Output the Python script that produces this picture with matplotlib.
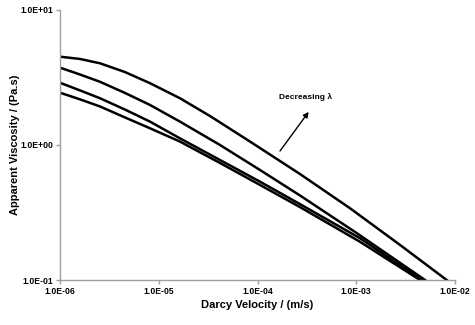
import matplotlib
matplotlib.use("Agg")
import matplotlib.pyplot as plt
from matplotlib.ticker import FixedLocator, NullLocator

# Data (Darcy velocity in m/s, apparent viscosity in Pa.s)
v1 = [1.00e-6, 1.59e-6, 2.54e-6, 4.55e-6, 8.15e-6, 1.64e-5, 3.30e-5, 8.40e-5,
      2.69e-4, 8.65e-4, 2.77e-3, 8.24e-3]
mu1 = [4.51, 4.34, 4.03, 3.47, 2.87, 2.22, 1.64, 1.06, 0.610, 0.340, 0.182, 0.100]

v2 = [1.00e-6, 1.59e-6, 2.54e-6, 4.55e-6, 8.15e-6, 1.64e-5, 4.17e-5, 1.06e-4,
      2.69e-4, 9.71e-4, 4.97e-3]
mu2 = [3.74, 3.33, 2.94, 2.43, 1.98, 1.49, 1.00, 0.653, 0.423, 0.227, 0.100]

v3 = [1.00e-6, 1.59e-6, 2.54e-6, 4.55e-6, 8.15e-6, 1.64e-5, 4.17e-5, 1.06e-4,
      2.69e-4, 1.09e-3, 4.60e-3]
mu3 = [2.89, 2.54, 2.22, 1.83, 1.49, 1.12, 0.774, 0.535, 0.365, 0.204, 0.100]

v4 = [1.00e-6, 1.59e-6, 2.54e-6, 4.55e-6, 8.15e-6, 1.64e-5, 4.17e-5, 1.06e-4,
      2.69e-4, 1.09e-3, 4.42e-3]
mu4 = [2.44, 2.18, 1.93, 1.60, 1.33, 1.06, 0.736, 0.506, 0.347, 0.192, 0.100]

x_ticks = [1e-6, 1e-5, 1e-4, 1e-3, 1e-2]
x_labels = ["1.0E-06", "1.0E-05", "1.0E-04", "1.0E-03", "1.0E-02"]
y_ticks = [1e-1, 1e0, 1e1]
y_labels = ["1.0E-01", "1.0E+00", "1.0E+01"]

plt.rcParams['font.family'] = ['Liberation Sans', 'DejaVu Sans']

fig = plt.figure(figsize=(4.75, 3.25), dpi=100)
ax = fig.add_axes([60/475, 45/325, 395/475, 270/325])

for v, mu in [(v1, mu1), (v2, mu2), (v3, mu3), (v4, mu4)]:
    ax.plot(v, mu, color='black', lw=1.8, solid_joinstyle='round')

ax.set_xscale('log')
ax.set_yscale('log')
ax.set_xlim(1e-6, 1e-2)
ax.set_ylim(1e-1, 1e1)

ax.xaxis.set_major_locator(FixedLocator(x_ticks))
ax.yaxis.set_major_locator(FixedLocator(y_ticks))
ax.xaxis.set_minor_locator(NullLocator())
ax.yaxis.set_minor_locator(NullLocator())
ax.set_xticklabels(x_labels, fontsize=6.2, fontweight='bold')
ax.set_yticklabels(y_labels, fontsize=6.2, fontweight='bold')

for s in ['top', 'right']:
    ax.spines[s].set_visible(False)
for s in ['left', 'bottom']:
    ax.spines[s].set_color('#a0a0a0')
    ax.spines[s].set_linewidth(1.0)
ax.tick_params(axis='both', direction='out', length=3, width=1.0, color='#a0a0a0', pad=2)

ax.set_xlabel("Darcy Velocity / (m/s)", fontsize=8, fontweight='bold', labelpad=3)
ax.set_ylabel("Apparent Viscosity / (Pa.s)", fontsize=8, fontweight='bold', labelpad=0)

ax.annotate("", xy=(3.30e-4, 1.76), xytext=(1.69e-4, 0.903),
            arrowprops=dict(arrowstyle='-|>', color='black', lw=1.0,
                            mutation_scale=8, shrinkA=0, shrinkB=0))
ax.text(3.03e-4, 2.27, "Decreasing \u03bb", fontsize=6, fontweight='bold',
        ha='center', va='center')

fig.savefig("out.png", dpi=100)
